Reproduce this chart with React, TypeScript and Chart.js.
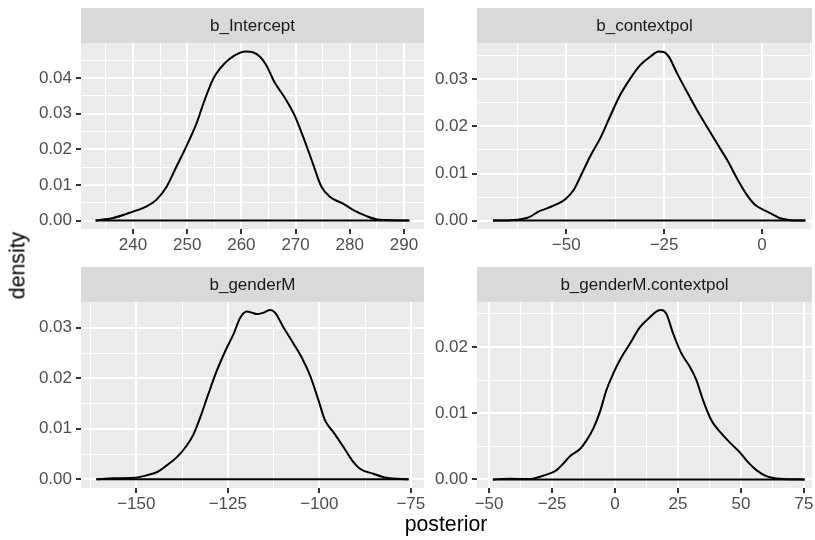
import React, { useEffect, useRef } from "react";
import { Chart, registerables } from "chart.js";

Chart.register(...registerables);

// ---------- data ----------
const panelTitles = ["b_Intercept", "b_contextpol", "b_genderM", "b_genderM.contextpol"];

const interceptX = [233.1, 236.3, 240, 242.5, 244.3, 246.2, 248, 249.8, 251.7, 253.2, 254.8, 256, 257.8, 259.7, 260.9, 262.1, 263.4, 264.6, 266.1, 268.3, 269.8, 271.4, 273.2, 274.7, 276.3, 278.7, 280.6, 283, 285.5, 291];
const interceptY = [0, 0.0007, 0.0025, 0.004, 0.0058, 0.0095, 0.0151, 0.0207, 0.0272, 0.0338, 0.0398, 0.0426, 0.0454, 0.0471, 0.0475, 0.0473, 0.0461, 0.0436, 0.0389, 0.0338, 0.0296, 0.0235, 0.016, 0.0097, 0.0067, 0.0048, 0.003, 0.0013, 0.0002, 0];

const contextX = [-68.7, -64.3, -59.6, -57.1, -54.9, -52.4, -50.3, -48.1, -46, -43.9, -41.3, -38.8, -36.2, -33.6, -31.1, -28.5, -26.4, -25.1, -23.8, -21.7, -19.2, -16.6, -14.1, -11.5, -8.9, -6.4, -3.8, -1.7, 0.4, 2.6, 4.7, 7.2, 11.1];
const contextY = [0, 0.0001, 0.0007, 0.0019, 0.0026, 0.0035, 0.0045, 0.0065, 0.01, 0.0136, 0.0175, 0.0221, 0.0267, 0.0302, 0.033, 0.0348, 0.0359, 0.0358, 0.0348, 0.0313, 0.0274, 0.0235, 0.02, 0.0164, 0.0129, 0.009, 0.0054, 0.0033, 0.0023, 0.0014, 0.0005, 0.0001, 0];

const genderX = [-160.9, -156.2, -150.7, -147.1, -144.4, -141.6, -138.9, -136.2, -134.3, -132.5, -130.3, -128, -125.3, -123.4, -121.6, -119.8, -118.4, -117.1, -115.2, -113.4, -112.1, -109.8, -107, -104.8, -102.5, -100.2, -98.4, -96.1, -93.4, -91.1, -88.9, -85.2, -81.6, -75.6];
const genderY = [0, 0.0002, 0.0003, 0.0008, 0.0014, 0.0028, 0.0044, 0.0067, 0.009, 0.0123, 0.0169, 0.0215, 0.026, 0.0288, 0.032, 0.0332, 0.033, 0.0327, 0.033, 0.0335, 0.033, 0.0301, 0.0268, 0.0241, 0.0205, 0.0156, 0.0116, 0.0093, 0.0064, 0.0038, 0.0021, 0.0011, 0.0003, 0];

const interactX = [-48.5, -41.7, -33.7, -29.8, -25.8, -23.2, -20.5, -17.9, -13.9, -11.3, -8.6, -6, -3.4, -0.7, 1.9, 5.9, 9.9, 13.8, 16.5, 18.4, 20.4, 23.1, 26.4, 29.7, 32.3, 35, 38.3, 41.6, 45.5, 49.5, 52.8, 56.1, 60.1, 65.4, 75.3];
const interactY = [0, 0.0001, 0.00005, 0.0004, 0.0009, 0.0014, 0.0024, 0.0035, 0.0046, 0.0059, 0.0077, 0.0102, 0.0135, 0.016, 0.018, 0.0205, 0.023, 0.0245, 0.0254, 0.0256, 0.025, 0.022, 0.019, 0.017, 0.015, 0.0119, 0.0089, 0.0072, 0.0056, 0.0041, 0.0026, 0.0014, 0.0005, 0.0001, 0];

// tick values
const interceptXMajor = [240, 250, 260, 270, 280, 290];
const interceptXMinor = [235, 245, 255, 265, 275, 285];
const contextXMajor = [-50, -25, 0];
const contextXMinor = [-62.5, -37.5, -12.5, 12.5];
const genderXMajor = [-150, -125, -100, -75];
const genderXMinor = [-162.5, -137.5, -112.5, -87.5];
const interactXMajor = [-50, -25, 0, 25, 50, 75];
const interactXMinor = [-37.5, -12.5, 12.5, 37.5, 62.5];

const interceptYMajor = [0, 0.01, 0.02, 0.03, 0.04];
const interceptYMinor = [0.005, 0.015, 0.025, 0.035, 0.045];
const contextYMajor = [0, 0.01, 0.02, 0.03];
const contextYMinor = [0.005, 0.015, 0.025, 0.035];
const genderYMajor = [0, 0.01, 0.02, 0.03];
const genderYMinor = [0.005, 0.015, 0.025];
const interactYMajor = [0, 0.01, 0.02];
const interactYMinor = [0.005, 0.015, 0.025];

const yAxisTitle = "density";
const xAxisTitle = "posterior";

// ---------- layout / style ----------
const W = 815;
const H = 540;
const AXW = 60;
const AXH = 40;
const STRIP_H = 35;
const FONT = "'Liberation Sans', Arial, Helvetica, sans-serif";

type Panel = {
  title: string;
  xs: number[];
  ys: number[];
  xMajor: number[];
  xMinor: number[];
  yMajor: number[];
  yMinor: number[];
  xMin: number;
  xMax: number;
  yMin: number;
  yMax: number;
  left: number;
  right: number;
  top: number;
  bottom: number;
};

const panels: Panel[] = [
  { title: panelTitles[0], xs: interceptX, ys: interceptY, xMajor: interceptXMajor, xMinor: interceptXMinor, yMajor: interceptYMajor, yMinor: interceptYMinor, xMin: 230.4, xMax: 293.7, yMin: -0.00238, yMax: 0.04988, left: 81, right: 424, top: 43, bottom: 229 },
  { title: panelTitles[1], xs: contextX, ys: contextY, xMajor: contextXMajor, xMinor: contextXMinor, yMajor: contextYMajor, yMinor: contextYMinor, xMin: -72.8, xMax: 12.8, yMin: -0.00178, yMax: 0.0377, left: 477, right: 812, top: 43, bottom: 229 },
  { title: panelTitles[2], xs: genderX, ys: genderY, xMajor: genderXMajor, xMinor: genderXMinor, yMajor: genderYMajor, yMinor: genderYMinor, xMin: -165.1, xMax: -71.4, yMin: -0.00172, yMax: 0.0351, left: 81, right: 424, top: 302, bottom: 488 },
  { title: panelTitles[3], xs: interactX, ys: interactY, xMajor: interactXMajor, xMinor: interactXMinor, yMajor: interactYMajor, yMinor: interactYMinor, xMin: -54.8, xMax: 78.2, yMin: -0.0013, yMax: 0.0268, left: 477, right: 812, top: 302, bottom: 488 },
];

const near = (a: number, list: number[]) => list.some((m) => Math.abs(m - a) < 1e-9);
const fmtX = (v: number) => (v < 0 ? "\u2212" + String(Math.abs(v)) : String(v));

const decorPlugin = {
  id: "panelDecor",
  beforeDraw(chart: any, _args: any, opts: any) {
    const { ctx, chartArea } = chart;
    const { left, right, top, bottom } = chartArea;
    ctx.save();
    ctx.fillStyle = "#EBEBEB";
    ctx.fillRect(left, top, right - left, bottom - top);
    ctx.fillStyle = "#D9D9D9";
    ctx.fillRect(left, top - STRIP_H, right - left, STRIP_H);
    ctx.fillStyle = "#1A1A1A";
    ctx.font = `17px ${FONT}`;
    ctx.textAlign = "center";
    ctx.textBaseline = "middle";
    ctx.fillText(opts.title, (left + right) / 2, top - STRIP_H / 2 + 1);
    ctx.restore();
  },
};

function makeConfig(p: Panel): any {
  const curve = p.xs.map((x, i) => ({ x, y: p.ys[i] }));
  const base = [
    { x: p.xs[0], y: 0 },
    { x: p.xs[p.xs.length - 1], y: 0 },
  ];
  const xAll = [...p.xMajor, ...p.xMinor].sort((a, b) => a - b);
  const yAll = [...p.yMajor, ...p.yMinor].sort((a, b) => a - b);
  const gridFor = (major: number[]) => ({
    color: "#FFFFFF",
    lineWidth: (c: any) => (c.tick && near(c.tick.value, major) ? 2 : 1),
    tickColor: (c: any) => (c.tick && near(c.tick.value, major) ? "#333333" : "rgba(0,0,0,0)"),
    tickWidth: (c: any) => (c.tick && near(c.tick.value, major) ? 2 : 0),
    tickLength: 5,
    drawTicks: true,
  });
  return {
    type: "line",
    data: {
      datasets: [
        { data: curve, borderColor: "#000000", borderWidth: 2, pointRadius: 0, cubicInterpolationMode: "monotone", fill: false },
        { data: base, borderColor: "#000000", borderWidth: 2, pointRadius: 0, fill: false },
      ],
    },
    options: {
      responsive: false,
      animation: false,
      events: [],
      layout: {
        autoPadding: false,
        padding: { left: p.left - AXW, right: W - p.right, top: p.top, bottom: H - p.bottom - AXH },
      },
      plugins: {
        legend: { display: false },
        tooltip: { enabled: false },
        title: { display: false },
        panelDecor: { title: p.title },
      },
      scales: {
        x: {
          type: "linear",
          min: p.xMin,
          max: p.xMax,
          afterBuildTicks: (s: any) => {
            s.ticks = xAll.map((v) => ({ value: v }));
          },
          afterFit: (s: any) => {
            s.height = AXH;
          },
          border: { display: false },
          grid: gridFor(p.xMajor),
          ticks: {
            autoSkip: false,
            maxRotation: 0,
            minRotation: 0,
            padding: 1,
            color: "#4D4D4D",
            font: { family: FONT, size: 17 },
            callback: (v: number) => (near(v, p.xMajor) ? fmtX(v) : ""),
          },
        },
        y: {
          type: "linear",
          min: p.yMin,
          max: p.yMax,
          afterBuildTicks: (s: any) => {
            s.ticks = yAll.map((v) => ({ value: v }));
          },
          afterFit: (s: any) => {
            s.width = AXW;
          },
          border: { display: false },
          grid: gridFor(p.yMajor),
          ticks: {
            autoSkip: false,
            padding: 4,
            color: "#4D4D4D",
            font: { family: FONT, size: 17 },
            callback: (v: number) => (near(v, p.yMajor) ? v.toFixed(2) : ""),
          },
        },
      },
    },
    plugins: [decorPlugin],
  };
}

function PanelChart({ p }: { p: Panel }) {
  const ref = useRef<HTMLCanvasElement | null>(null);
  useEffect(() => {
    if (!ref.current) return;
    const chart = new Chart(ref.current, makeConfig(p));
    return () => chart.destroy();
  }, [p]);
  return <canvas ref={ref} width={W} height={H} style={{ position: "absolute", left: 0, top: 0, width: W, height: H }} />;
}

export default function App() {
  return (
    <div style={{ position: "fixed", left: 0, top: 0, width: W, height: H, background: "#FFFFFF", overflow: "hidden" }}>
      {panels.map((p, i) => (
        <PanelChart key={i} p={p} />
      ))}
      <div
        style={{
          position: "absolute",
          left: 446 - 100,
          top: 514,
          width: 200,
          textAlign: "center",
          fontFamily: FONT,
          fontSize: 21.25,
          lineHeight: "21px",
          color: "#000000",
        }}
      >
        {xAxisTitle}
      </div>
      <div
        style={{
          position: "absolute",
          left: 18 - 100,
          top: 265.5 - 10.5,
          width: 200,
          height: 21,
          textAlign: "center",
          fontFamily: FONT,
          fontSize: 21.25,
          lineHeight: "21px",
          color: "#000000",
          transform: "rotate(-90deg)",
          transformOrigin: "50% 50%",
        }}
      >
        {yAxisTitle}
      </div>
    </div>
  );
}
